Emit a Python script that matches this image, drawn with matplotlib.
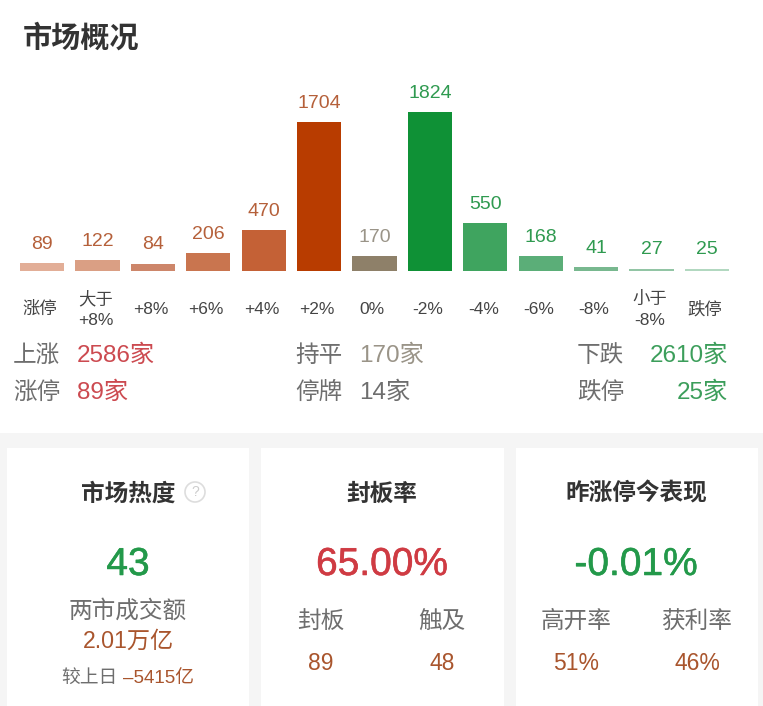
import matplotlib
matplotlib.use('Agg')
import matplotlib.pyplot as plt
import matplotlib.patheffects as pe
from matplotlib.patches import Rectangle, Circle

FONTS = ['Liberation Sans', 'Noto Sans CJK SC', 'DejaVu Sans']
plt.rcParams['font.family'] = FONTS

# distribution of stocks by change
categories = ["涨停", "大于\n+8%", "+8%", "+6%", "+4%", "+2%", "0%", "-2%", "-4%", "-6%", "-8%", "小于\n-8%", "跌停"]
counts = [89, 122, 84, 206, 470, 1704, 170, 1824, 550, 168, 41, 27, 25]
bar_colors = ["#E2AE97", "#DA9F84", "#CD866A", "#C9754F", "#C46136", "#B83C00", "#8E8069",
              "#0F9136", "#3FA45F", "#5BAE78", "#78B88F", "#92C5A5", "#B2D8C0"]
label_colors = ["#B5603A"] * 6 + ["#9A9488"] + ["#2F9A50"] * 6

RED = "#CC4A50"
GREEN = "#3C9E5B"
GREY = "#6E6E6E"
DARK = "#333333"
ORANGE = "#A9552D"

W, H = 763, 706
fig = plt.figure(figsize=(W / 100, H / 100), dpi=100, facecolor="white")

# background layer in pixel coordinates
bg = fig.add_axes([0, 0, 1, 1])
bg.set_xlim(0, W)
bg.set_ylim(H, 0)
bg.axis('off')
bg.add_patch(Rectangle((0, 433), W, H - 433, color="#F5F5F5", lw=0))
for x0, x1 in [(7, 249), (261, 504), (516, 758)]:
    bg.add_patch(Rectangle((x0, 448), x1 - x0, H - 448, color="white", lw=0))

# bar chart
base_y = 271
top_y = 112
left = 14.3
right = 734.7
ax = fig.add_axes([left / W, 1 - base_y / H, (right - left) / W, (base_y - top_y) / H])
ax.patch.set_alpha(0)
ax.bar(range(len(counts)), counts, width=0.8, color=bar_colors)
ax.set_xlim(-0.5, len(counts) - 0.5)
ax.set_ylim(0, 1824)
ax.axis('off')
for i, (c, col) in enumerate(zip(counts, label_colors)):
    ax.annotate(str(c), (i, c), xytext=(0, 7.5), textcoords='offset points', ha='center', va='bottom',
                fontsize=14, color=col, annotation_clip=False)
for i, cat in enumerate(categories):
    ax.annotate(cat, (i, 0), xytext=(-1.5, -27.5), textcoords='offset points', ha='center', va='center',
                fontsize=12.5, color="#444444", linespacing=1.5, annotation_clip=False)


def txt(x, y, s, size, color, ha='left', weight='normal', stroke=0):
    t = bg.text(x, y, s, fontsize=size, color=color, ha=ha, va='center', fontweight=weight, zorder=5)
    if stroke:
        t.set_path_effects([pe.withStroke(linewidth=stroke, foreground=color)])


txt(23, 38, "市场概况", 21, DARK, weight='bold')

# summary rows
txt(13, 356, "上涨", 17, GREY)
txt(77, 356, "2586家", 17.5, RED)
txt(13, 393, "涨停", 17, GREY)
txt(77, 393, "89家", 17.5, RED)
txt(295, 356, "持平", 17, GREY)
txt(359, 356, "170家", 17.5, "#9A9488")
txt(295, 393, "停牌", 17, GREY)
txt(359, 393, "14家", 17.5, GREY)
txt(577, 356, "下跌", 17, GREY)
txt(728, 356, "2610家", 17.5, GREEN, ha='right')
txt(577, 393, "跌停", 17, GREY)
txt(728, 393, "25家", 17.5, GREEN, ha='right')

# cards
txt(128, 494, "市场热度", 17, DARK, ha='center', weight='bold')
bg.add_patch(Circle((195, 492), 10, fill=False, ec="#DDDDDD", lw=1.2, zorder=5))
txt(195, 492, "?", 10, "#CCCCCC", ha='center')
txt(128, 565, "43", 28, "#23994A", ha='center', stroke=0.4)
txt(128, 611, "两市成交额", 17, GREY, ha='center')
txt(128, 641, "2.01万亿", 16.7, ORANGE, ha='center')
txt(61, 678, "较上日", 13.5, GREY)
txt(194, 678, "–5415亿", 13.5, ORANGE, ha='right')

txt(382, 494, "封板率", 17, DARK, ha='center', weight='bold')
txt(382, 565, "65.00%", 28, "#CF3B43", ha='center', stroke=0.4)
txt(321, 623, "封板", 17, GREY, ha='center')
txt(442, 623, "触及", 17, GREY, ha='center')
txt(321, 664, "89", 16.5, ORANGE, ha='center')
txt(442, 664, "48", 16.5, ORANGE, ha='center')

txt(636, 494, "昨涨停今表现", 17, DARK, ha='center', weight='bold')
txt(636, 565, "-0.01%", 28, "#23994A", ha='center', stroke=0.4)
txt(576, 622, "高开率", 17, GREY, ha='center')
txt(697, 623, "获利率", 17, GREY, ha='center')
txt(576, 664, "51%", 16.5, ORANGE, ha='center')
txt(697, 664, "46%", 16.5, ORANGE, ha='center')

fig.savefig("out.png", dpi=100)
